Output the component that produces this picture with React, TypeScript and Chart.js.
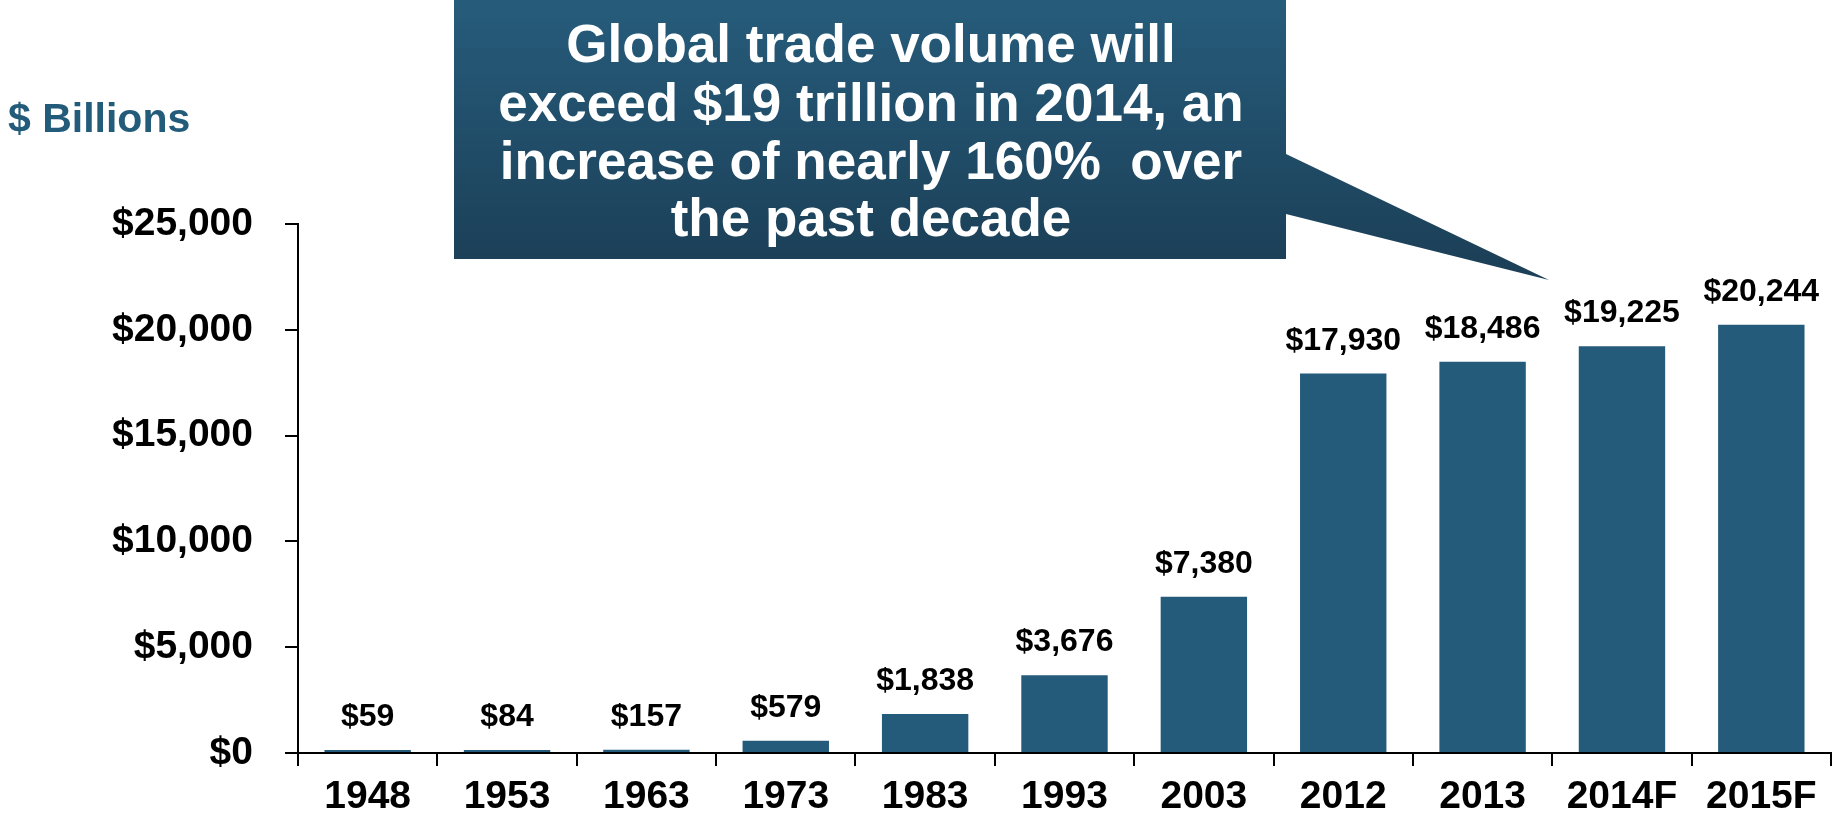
import React, { useEffect, useRef } from "react";
import { Chart, registerables } from "chart.js";

Chart.register(...registerables);

const categories = ["1948", "1953", "1963", "1973", "1983", "1993", "2003", "2012", "2013", "2014F", "2015F"];
const values = [59, 84, 157, 579, 1838, 3676, 7380, 17930, 18486, 19225, 20244];
const valueLabels = ["$59", "$84", "$157", "$579", "$1,838", "$3,676", "$7,380", "$17,930", "$18,486", "$19,225", "$20,244"];
const calloutLines = [
  "Global trade volume will",
  "exceed $19 trillion in 2014, an",
  "increase of nearly 160%  over",
  "the past decade",
];
const unitLabel = "$ Billions";

const BAR = "#245B7A";
const FONT = "'Liberation Sans', Arial, sans-serif";

const overlayPlugin = {
  id: "overlay",
  afterDatasetsDraw(chart: any) {
    const ctx = chart.ctx;
    const meta = chart.getDatasetMeta(0);
    ctx.save();
    ctx.fillStyle = "#000";
    ctx.font = `bold 32px ${FONT}`;
    ctx.textAlign = "center";
    ctx.textBaseline = "alphabetic";
    meta.data.forEach((el: any, i: number) => {
      ctx.fillText(valueLabels[i], el.x, el.y - 24);
    });
    ctx.restore();
  },
  afterDraw(chart: any) {
    const ctx = chart.ctx;
    ctx.save();
    // unit label
    ctx.fillStyle = "#235C7A";
    ctx.font = `bold 41px ${FONT}`;
    ctx.textAlign = "left";
    ctx.textBaseline = "alphabetic";
    ctx.fillText(unitLabel, 8, 132);

    // callout box
    const x0 = 454, x1 = 1286, y0 = 0, y1 = 259;
    const g = ctx.createLinearGradient(0, y0, 0, y1);
    g.addColorStop(0, "#265C7B");
    g.addColorStop(1, "#1C4058");
    ctx.fillStyle = g;
    ctx.beginPath();
    ctx.moveTo(x0, y0);
    ctx.lineTo(x1, y0);
    ctx.lineTo(x1, 154);
    ctx.lineTo(1549, 280);
    ctx.lineTo(x1, 214);
    ctx.lineTo(x1, y1);
    ctx.lineTo(x0, y1);
    ctx.closePath();
    ctx.fill();

    ctx.fillStyle = "#FFFFFF";
    ctx.font = `bold 53px ${FONT}`;
    ctx.textAlign = "center";
    ctx.textBaseline = "alphabetic";
    const cx = 871;
    const baselines = [62, 121, 179, 236];
    calloutLines.forEach((t, i) => ctx.fillText(t, cx, baselines[i]));
    ctx.restore();
  },
};

export default function App() {
  const ref = useRef<HTMLCanvasElement>(null);
  useEffect(() => {
    document.body.style.margin = "0";
    const canvas = ref.current!;
    const chart = new Chart(canvas, {
      type: "bar",
      data: {
        labels: categories,
        datasets: [
          {
            data: values,
            backgroundColor: BAR,
            borderWidth: 0,
            categoryPercentage: 1,
            barPercentage: 0.62,
            minBarLength: 3,
          },
        ],
      },
      options: {
        animation: false,
        responsive: false,
        maintainAspectRatio: false,
        layout: { padding: { top: 224, right: 14, left: 0, bottom: 0 } },
        plugins: { legend: { display: false }, tooltip: { enabled: false } },
        scales: {
          x: {
            offset: true,
            grid: {
              offset: true,
              drawOnChartArea: false,
              drawTicks: true,
              tickLength: 13,
              color: "#000",
              lineWidth: 2,
            },
            border: { display: true, color: "#000", width: 2 },
            ticks: {
              color: "#000",
              font: { family: FONT, size: 39, weight: "bold" },
              padding: 8,
              maxRotation: 0,
              autoSkip: false,
            },
            afterFit: (s: any) => {
              s.height = 69;
            },
          },
          y: {
            min: 0,
            max: 25000,
            ticks: {
              stepSize: 5000,
              color: "#000",
              font: { family: FONT, size: 39, weight: "bold" },
              padding: 32,
              callback: (v: any) => "$" + Number(v).toLocaleString("en-US"),
            },
            grid: {
              drawOnChartArea: false,
              drawTicks: true,
              tickLength: 13,
              color: "#000",
              lineWidth: 2,
            },
            border: { display: true, color: "#000", width: 2 },
            afterFit: (s: any) => {
              s.width = 298;
            },
          },
        },
      },
      plugins: [overlayPlugin],
    });
    return () => chart.destroy();
  }, []);
  return (
    <div style={{ width: 1845, height: 822 }}>
      <canvas ref={ref} width={1845} height={822} style={{ width: 1845, height: 822, display: "block" }} />
    </div>
  );
}
